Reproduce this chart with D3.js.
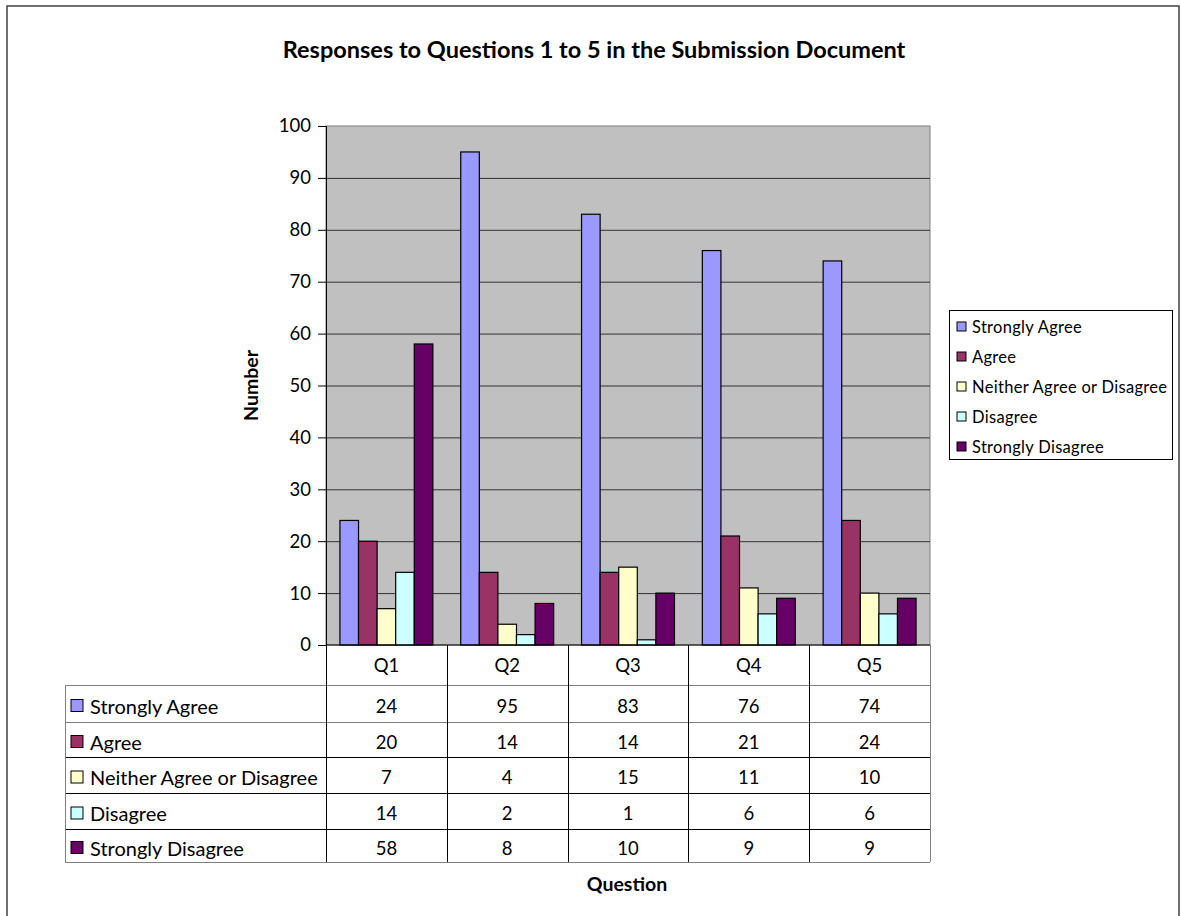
<!DOCTYPE html>
<html>
<head>
<meta charset="utf-8">
<script src="https://cdn.jsdelivr.net/npm/d3@7"></script>
<style>
  body { margin: 0; background: #fff; }
  text { font-family: Lato, "Open Sans", sans-serif; fill: #000; }
</style>
</head>
<body>
<div id="chart"></div>
<script>
// data
var questions = ["Q1", "Q2", "Q3", "Q4", "Q5"];
var seriesNames = ["Strongly Agree", "Agree", "Neither Agree or Disagree", "Disagree", "Strongly Disagree"];
var seriesColors = ["#9999FF", "#993366", "#FFFFCC", "#CCFFFF", "#660066"];
var stronglyAgree = [24, 95, 83, 76, 74];
var agree = [20, 14, 14, 21, 24];
var neither = [7, 4, 15, 11, 10];
var disagree = [14, 2, 1, 6, 6];
var stronglyDisagree = [58, 8, 10, 9, 9];
var yTicks = [0, 10, 20, 30, 40, 50, 60, 70, 80, 90, 100];

var allSeries = [stronglyAgree, agree, neither, disagree, stronglyDisagree];

var width = 1181, height = 916;
var plot = {left: 326, right: 930, top: 126, bottom: 645};
var tableLeft = 65;
var rowEdges = [645, 685, 722, 757, 793, 829, 862];

var svg = d3.select("#chart").append("svg")
  .attr("width", width)
  .attr("height", height);

// outer frame
svg.append("rect")
  .attr("x", 7).attr("y", 6)
  .attr("width", 1172).attr("height", 930)
  .attr("fill", "#fff")
  .attr("stroke", "#404040")
  .attr("stroke-width", 1.5);

svg.append("text")
  .attr("x", 594).attr("y", 58)
  .attr("text-anchor", "middle")
  .style("font-weight", "bold")
  .style("font-size", "23.5px")
  .text("Responses to Questions 1 to 5 in the Submission Document");

/************* scales ***************/
var x = d3.scaleBand().domain(questions).range([plot.left, plot.right]);
var xInner = d3.scaleBand().domain(seriesNames)
  .range([0, x.bandwidth()])
  .paddingInner(0).paddingOuter(0.75);
var y = d3.scaleLinear().domain([0, 100]).range([plot.bottom, plot.top]);

svg.append("rect")
  .attr("x", plot.left).attr("y", plot.top)
  .attr("width", plot.right - plot.left)
  .attr("height", plot.bottom - plot.top)
  .attr("fill", "#C0C0C0")
  .attr("stroke", "#808080");

// gridlines
svg.append("g")
  .selectAll("line")
  .data(yTicks.slice(1, -1))
  .enter().append("line")
    .attr("x1", plot.left).attr("x2", plot.right)
    .attr("y1", d => y(d) + 0.5).attr("y2", d => y(d) + 0.5)
    .attr("stroke", "#333");

// bars
var groups = svg.append("g")
  .selectAll("g")
  .data(seriesNames)
  .enter().append("g")
    .attr("fill", (d, i) => seriesColors[i]);

groups.selectAll("rect")
  .data((d, i) => allSeries[i].map((v, j) => ({s: d, q: questions[j], v: v})))
  .enter().append("rect")
    .attr("x", d => x(d.q) + xInner(d.s))
    .attr("y", d => y(d.v))
    .attr("width", xInner.bandwidth())
    .attr("height", d => y(0) - y(d.v))
    .attr("stroke", "#000")
    .attr("stroke-width", 1.2);

// y axis
var yAxis = d3.axisLeft(y).tickValues(yTicks).tickSize(8).tickPadding(7);
var yg = svg.append("g")
  .attr("transform", "translate(" + plot.left + ",0)")
  .call(yAxis);
yg.select(".domain").attr("stroke", "#000");
yg.selectAll(".tick line").attr("stroke", "#000");
yg.selectAll("text").style("font-size", "18.5px").style("font-family", "Lato, sans-serif");

svg.append("text")
  .attr("transform", "translate(258," + ((plot.top + plot.bottom) / 2) + ") rotate(-90)")
  .attr("text-anchor", "middle")
  .style("font-weight", "bold")
  .style("font-size", "19.5px")
  .text("Number");

/************* data table ***************/
var table = svg.append("g");

table.append("line")
  .attr("x1", plot.left).attr("x2", plot.right)
  .attr("y1", plot.bottom).attr("y2", plot.bottom)
  .attr("stroke", "#000");

// horizontal row lines
table.selectAll(".hline")
  .data(rowEdges.slice(1))
  .enter().append("line")
    .attr("class", "hline")
    .attr("x1", tableLeft).attr("x2", plot.right)
    .attr("y1", d => d + 0.5).attr("y2", d => d + 0.5)
    .attr("stroke", (d, i) => (i == 0 || i == 1 || i == 5) ? "#808080" : "#000");

// vertical lines
var colEdges = questions.map(q => x(q)).concat([plot.right]);
table.selectAll(".vline")
  .data(colEdges)
  .enter().append("line")
    .attr("class", "vline")
    .attr("x1", d => Math.round(d) + 0.5).attr("x2", d => Math.round(d) + 0.5)
    .attr("y1", plot.bottom).attr("y2", rowEdges[6])
    .attr("stroke", (d, i) => (i == 5) ? "#808080" : "#000");

table.append("line")
  .attr("x1", tableLeft + 0.5).attr("x2", tableLeft + 0.5)
  .attr("y1", rowEdges[1]).attr("y2", rowEdges[6])
  .attr("stroke", "#808080");

// category labels
table.selectAll(".qlabel")
  .data(questions)
  .enter().append("text")
    .attr("class", "qlabel")
    .attr("x", d => x(d) + x.bandwidth() / 2)
    .attr("y", (rowEdges[0] + rowEdges[1]) / 2 + 7)
    .attr("text-anchor", "middle")
    .style("font-size", "18.5px")
    .text(d => d);

// series rows
var rows = table.selectAll(".row")
  .data(seriesNames)
  .enter().append("g")
    .attr("class", "row");

rows.append("rect")
  .attr("x", tableLeft + 6)
  .attr("y", (d, i) => (rowEdges[i + 1] + rowEdges[i + 2]) / 2 - 4)
  .attr("width", 12).attr("height", 12)
  .attr("fill", (d, i) => seriesColors[i])
  .attr("stroke", "#000");

rows.append("text")
  .attr("x", tableLeft + 25)
  .attr("y", (d, i) => (rowEdges[i + 1] + rowEdges[i + 2]) / 2 + 10)
  .style("font-size", "20px")
  .text(d => d);

rows.selectAll(".val")
  .data((d, i) => allSeries[i].map((v, j) => ({q: questions[j], v: v, row: i})))
  .enter().append("text")
    .attr("class", "val")
    .attr("x", d => x(d.q) + x.bandwidth() / 2)
    .attr("y", d => (rowEdges[d.row + 1] + rowEdges[d.row + 2]) / 2 + 9)
    .attr("text-anchor", "middle")
    .style("font-size", "18.5px")
    .text(d => d.v);

svg.append("text")
  .attr("x", 627).attr("y", 891)
  .attr("text-anchor", "middle")
  .style("font-weight", "bold")
  .style("font-size", "19.5px")
  .text("Question");

/************* legend ***************/
var legend = svg.append("g");
legend.append("rect")
  .attr("x", 949.5).attr("y", 310.5)
  .attr("width", 223).attr("height", 149)
  .attr("fill", "#fff")
  .attr("stroke", "#000");

var legendItems = legend.selectAll(".item")
  .data(seriesNames)
  .enter().append("g")
    .attr("class", "item")
    .attr("transform", (d, i) => "translate(957," + (327 + i * 30) + ")");

legendItems.append("rect")
  .attr("x", 0).attr("y", -5)
  .attr("width", 9).attr("height", 9)
  .attr("fill", (d, i) => seriesColors[i])
  .attr("stroke", "#000");

legendItems.append("text")
  .attr("x", 15).attr("y", 6)
  .style("font-size", "16.5px")
  .style("letter-spacing", "0.3px")
  .text(d => d);
</script>
</body>
</html>
